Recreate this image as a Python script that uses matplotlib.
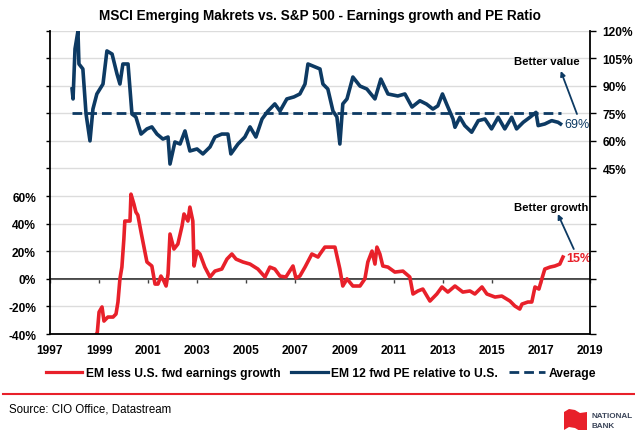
import matplotlib.pyplot as plt
from matplotlib.ticker import FuncFormatter
from matplotlib.lines import Line2D
from matplotlib.patches import Polygon

plt.rcParams['font.family'] = ['Liberation Sans', 'DejaVu Sans']

# EM 12m fwd PE relative to U.S. (right axis, %)
pe_years = [1997.90, 1997.94, 1998.02, 1998.14, 1998.18, 1998.34, 1998.47, 1998.63,
            1998.75, 1998.91, 1999.16, 1999.32, 1999.53, 1999.73, 1999.85, 1999.97,
            2000.18, 2000.34, 2000.50, 2000.71, 2000.95, 2001.15, 2001.36, 2001.60,
            2001.81, 2001.89, 2002.09, 2002.30, 2002.50, 2002.70, 2002.99, 2003.23,
            2003.52, 2003.72, 2004.00, 2004.25, 2004.37, 2004.66, 2004.94, 2005.15,
            2005.39, 2005.64, 2005.88, 2006.16, 2006.37, 2006.65, 2006.94, 2007.18,
            2007.39, 2007.51, 2008.00, 2008.12, 2008.32, 2008.53, 2008.69, 2008.81,
            2008.93, 2009.10, 2009.34, 2009.63, 2009.91, 2010.24, 2010.48, 2010.77,
            2011.17, 2011.46, 2011.75, 2012.07, 2012.34, 2012.60, 2012.80, 2012.99,
            2013.16, 2013.42, 2013.50, 2013.70, 2013.90, 2014.18, 2014.45, 2014.72,
            2014.99, 2015.26, 2015.53, 2015.81, 2016.01, 2016.28, 2016.55, 2016.80,
            2016.89, 2017.16, 2017.44, 2017.70, 2017.80]
pe_rel = [88.2, 82.8, 110.0, 119.7, 101.8, 99.1, 74.6, 60.0,
          77.3, 85.5, 90.9, 108.9, 107.2, 96.4, 90.9, 101.8,
          101.8, 74.6, 73.0, 63.7, 66.5, 67.6, 63.7, 61.0,
          62.1, 47.4, 59.4, 58.3, 65.4, 54.5, 55.6, 52.9,
          56.7, 62.1, 63.7, 63.7, 52.9, 58.3, 62.1, 67.6,
          62.1, 71.9, 76.2, 80.1, 76.2, 82.8, 83.9, 85.5,
          90.9, 101.8, 99.1, 90.9, 88.2, 76.2, 73.0, 58.3,
          80.1, 82.8, 94.7, 89.8, 88.2, 82.8, 93.6, 85.5,
          84.4, 85.5, 78.4, 81.8, 80.0, 77.3, 79.0, 85.5,
          80.0, 71.9, 67.4, 72.8, 68.3, 64.7, 71.0, 71.9,
          66.5, 72.8, 66.5, 72.8, 66.5, 70.1, 72.8, 75.5,
          68.3, 69.2, 71.0, 70.1, 69.2]

# EM less U.S. fwd earnings growth (left axis, %)
eg_years = [1998.85, 1998.93, 1999.00, 1999.12, 1999.20, 1999.36, 1999.57, 1999.69,
            1999.77, 1999.85, 1999.93, 2000.01, 2000.05, 2000.26, 2000.30, 2000.42,
            2000.50, 2000.58, 2000.71, 2000.83, 2000.95, 2001.15, 2001.28, 2001.40,
            2001.52, 2001.64, 2001.73, 2001.81, 2001.89, 2002.05, 2002.21, 2002.38,
            2002.46, 2002.62, 2002.70, 2002.82, 2002.87, 2002.99, 2003.11, 2003.31,
            2003.52, 2003.72, 2004.00, 2004.21, 2004.41, 2004.58, 2004.86, 2005.15,
            2005.47, 2005.76, 2005.96, 2006.16, 2006.37, 2006.61, 2006.90, 2007.02,
            2007.18, 2007.39, 2007.67, 2007.92, 2008.00, 2008.20, 2008.61, 2008.81,
            2008.93, 2009.10, 2009.34, 2009.63, 2009.83, 2009.95, 2010.12, 2010.24,
            2010.32, 2010.44, 2010.56, 2010.77, 2011.05, 2011.38, 2011.66, 2011.79,
            2011.99, 2012.19, 2012.48, 2012.76, 2012.97, 2013.21, 2013.50, 2013.82,
            2014.11, 2014.31, 2014.60, 2014.80, 2015.13, 2015.41, 2015.74, 2015.94,
            2016.14, 2016.23, 2016.47, 2016.63, 2016.76, 2016.92, 2017.04, 2017.16,
            2017.37, 2017.57, 2017.77, 2017.90]
eg_diff = [-42.0, -38.6, -24.1, -20.4, -30.6, -27.7, -27.7, -25.5,
           -16.8, 0.0, 8.5, 28.8, 41.9, 41.9, 61.4, 54.2,
           48.4, 46.2, 33.9, 23.0, 12.2, 9.3, -3.8, -3.8,
           2.0, -1.6, -5.2, 3.5, 32.5, 21.6, 25.2, 38.3,
           47.0, 41.9, 52.0, 41.9, 9.3, 20.1, 18.0, 8.5,
           1.3, 5.6, 7.1, 14.3, 18.0, 14.3, 12.2, 10.7,
           7.1, 1.3, 8.5, 7.1, 2.0, 1.3, 9.3, 0.6,
           2.0, 8.5, 18.0, 15.8, 18.0, 23.0, 23.0, 7.1,
           -5.2, 0.0, -5.2, -5.2, 0.0, 12.2, 20.1, 10.7,
           23.0, 18.0, 9.3, 8.5, 4.9, 5.6, 1.3, -11.0,
           -8.8, -7.4, -16.1, -11.0, -5.9, -9.6, -5.2, -9.6,
           -8.8, -11.0, -5.9, -11.0, -13.2, -12.5, -16.1, -19.7,
           -21.9, -18.3, -16.8, -16.8, -5.9, -7.4, 0.0, 7.1,
           8.5, 9.3, 10.7, 15.8]

pe_avg = 75
pe_last = 69
eg_last = 15
year_ticks = list(range(1997, 2020, 2))

RED = '#e8202a'
NAVY = '#0d3a63'
BOLD = 'bold'

fig = plt.figure(figsize=(6.35, 4.31), dpi=100)
ax = fig.add_axes([0.0787, 0.2227, 0.8504, 0.7042])
ax2 = ax.twinx()

# left axis: earnings growth gap
ax.plot(eg_years, eg_diff, color=RED, lw=2.6)
ax.set_xlim(1997, 2019)
ax.set_ylim(-40, 180)
ax.set_yticks(range(-40, 181, 20))
ax.yaxis.set_major_formatter(FuncFormatter(lambda v, p: f'{v:.0f}%' if v <= 60 else ''))
ax.set_xticks(year_ticks)
ax.grid(axis='y', color='#dcdcdc', lw=1)
ax.set_axisbelow(True)
ax.axhline(0, color='#404040', lw=1.2, zorder=1)
ax.tick_params(axis='x', length=0, pad=7, labelsize=8.6)
ax.tick_params(axis='y', length=3, width=1, direction='out', pad=7, labelsize=8.6)
for lab in ax.get_xticklabels() + ax.get_yticklabels():
    lab.set_fontweight(BOLD)
for s in ['top', 'right']:
    ax.spines[s].set_visible(False)
for s in ['left', 'bottom']:
    ax.spines[s].set_linewidth(1.3)

# tick marks along the zero line
zero = ax.secondary_xaxis((0 + 40) / 220)
zero.set_xticks(year_ticks)
zero.tick_params(labelbottom=False, length=3, width=1, color='#404040')
zero.spines['bottom'].set_color('#404040')
zero.spines['bottom'].set_linewidth(1.2)

# right axis: PE relative
ax2.plot(pe_years, pe_rel, color=NAVY, lw=2.6)
ax2.plot([pe_years[0], pe_years[-1]], [pe_avg, pe_avg], color=NAVY, lw=2,
         linestyle=(0, (3.5, 1.8)))
ax2.set_ylim(-45, 120)
ax2.set_yticks(range(-45, 121, 15))
ax2.yaxis.set_major_formatter(FuncFormatter(lambda v, p: f'{v:.0f}%' if v >= 45 else ''))
ax2.tick_params(axis='y', length=4, width=1, direction='out', pad=5, labelsize=8.6)
for lab in ax2.get_yticklabels():
    lab.set_fontweight(BOLD)
for s in ['top', 'left', 'bottom']:
    ax2.spines[s].set_visible(False)
ax2.spines['right'].set_linewidth(1.3)

# end labels and call-outs
ax2.annotate(f'{pe_last}%', xy=(pe_years[-1], pe_last), xytext=(3, 0),
             textcoords='offset points', color=NAVY, fontsize=9, va='center')
ax.annotate(f'{eg_last}%', xy=(eg_years[-1], eg_last), xytext=(2, 0),
            textcoords='offset points', color=RED, fontsize=9, va='center',
            fontweight=BOLD)

ax2.text(2017.24, 103.4, 'Better value', ha='center', va='center',
         fontsize=8.2, fontweight=BOLD)
ax2.annotate('', xy=(2017.81, 98.0), xytext=(2018.47, 74.6),
             arrowprops=dict(arrowstyle='-|>', color=NAVY, lw=1.3,
                             mutation_scale=7, shrinkA=0, shrinkB=0))
ax.text(2017.41, 52.0, 'Better growth', ha='center', va='center',
        fontsize=8.2, fontweight=BOLD)
ax.annotate('', xy=(2017.69, 47.0), xytext=(2018.34, 21.6),
            arrowprops=dict(arrowstyle='-|>', color=NAVY, lw=1.3,
                            mutation_scale=7, shrinkA=0, shrinkB=0))

fig.suptitle('MSCI Emerging Makrets vs. S&P 500 - Earnings growth and PE Ratio',
             x=0.504, y=0.963, fontsize=9.8, fontweight=BOLD, va='center')

handles = [Line2D([], [], color=RED, lw=2.3),
           Line2D([], [], color=NAVY, lw=2.3),
           Line2D([], [], color=NAVY, lw=2, linestyle=(0, (3.5, 1.8)))]
labels = ['EM less U.S. fwd earnings growth', 'EM 12 fwd PE relative to U.S.', 'Average']
fig.legend(handles, labels, loc='center', bbox_to_anchor=(0.506, 1 - 374 / 431),
           ncol=3, frameon=False, handlelength=3.0, handletextpad=0.3,
           columnspacing=0.9, prop={'weight': BOLD, 'size': 8.7})

# footer
fig.add_artist(Line2D([0.005, 1.0], [1 - 395 / 431] * 2, color=RED, lw=1.5))
fig.text(9 / 635, 1 - 410 / 431, 'Source: CIO Office, Datastream', fontsize=8.3,
         va='center', ha='left')
flag = [(564, 413), (569, 410), (575, 411), (580, 414), (587, 413), (587, 431),
        (580, 432), (575, 429), (569, 428), (564, 431)]
fig.add_artist(Polygon([(x / 635, 1 - y / 431) for x, y in flag], closed=True,
                       facecolor=RED, edgecolor='none', transform=fig.transFigure))
fig.text(591 / 635, 1 - 417 / 431, 'NATIONAL', fontsize=5.9, fontweight=BOLD,
         color='#3b4559', va='center')
fig.text(591 / 635, 1 - 427 / 431, 'BANK', fontsize=5.9, fontweight=BOLD,
         color='#3b4559', va='center')

fig.savefig('out.png', dpi=100)
